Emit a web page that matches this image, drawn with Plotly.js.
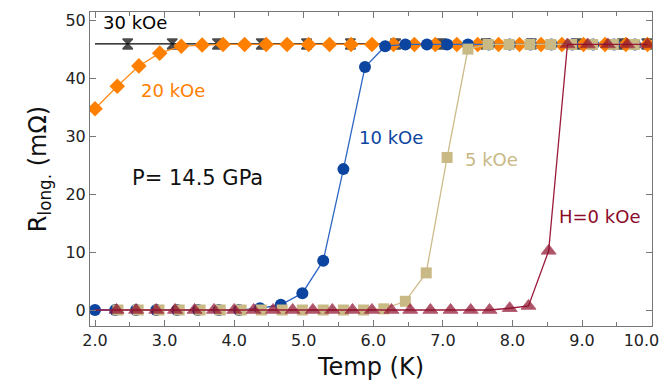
<!DOCTYPE html>
<html>
<head>
<meta charset="utf-8">
<script src="https://cdn.plot.ly/plotly-3.0.1.min.js"></script>
<style>html,body{margin:0;padding:0;background:#fff;}#chart{width:667px;height:390px;}</style>
</head>
<body>
<div id="chart"></div>
<script>
// 30 kOe (first point: line start only)
const t30 = [2.0, 2.47, 3.11, 3.76, 4.39, 5.04, 5.67, 6.32, 6.98, 7.62, 8.27, 8.92, 9.58, 9.93];
const r30 = [45.9, 45.9, 45.9, 45.9, 45.9, 45.9, 45.9, 45.9, 45.9, 45.9, 45.9, 45.9, 45.9, 45.9];

// 20 kOe
const t20 = [2.0, 2.32, 2.63, 2.93, 3.24, 3.54, 3.84, 4.15, 4.46, 4.76, 5.07, 5.37, 5.68, 5.98, 6.29, 6.59, 6.89, 7.2, 7.5, 7.8, 8.1, 8.41, 8.71, 9.02, 9.33, 9.63, 9.94];
const r20 = [34.7, 38.6, 42.1, 44.3, 45.5, 45.7, 45.8, 45.8, 45.8, 45.8, 45.8, 45.8, 45.8, 45.8, 45.8, 45.8, 45.8, 45.8, 45.8, 45.8, 45.8, 45.8, 45.8, 45.8, 45.8, 45.8, 45.8];

// 10 kOe
const t10 = [2.0, 2.29, 2.59, 2.88, 3.18, 3.48, 3.78, 4.07, 4.37, 4.67, 4.98, 5.28, 5.57, 5.88, 6.17, 6.46, 6.77, 7.06, 7.36, 7.66, 7.96, 8.26, 8.56, 8.86, 9.16, 9.46, 9.76];
const r10 = [0, 0, 0, 0, 0, 0, 0, 0, 0.3, 0.9, 2.9, 8.5, 24.3, 41.9, 45.5, 45.8, 45.8, 45.8, 45.8, 45.8, 45.8, 45.8, 45.8, 45.8, 45.8, 45.8, 45.8];

// 5 kOe
const t5 = [2.33, 2.62, 2.92, 3.21, 3.51, 3.80, 4.10, 4.39, 4.69, 4.98, 5.28, 5.57, 5.86, 6.15, 6.46, 6.76, 7.06, 7.36, 7.65, 7.95, 8.25, 8.55, 8.85, 9.15, 9.45, 9.75];
const r5 = [0, 0, 0, 0, 0, 0, 0, 0, 0, 0, 0, 0, 0, 0.2, 1.5, 6.4, 26.3, 45.0, 45.8, 45.8, 45.8, 45.8, 45.8, 45.8, 45.8, 45.8];

// H = 0 kOe (first point: line start only)
const t0 = [2.0, 2.31, 2.59, 2.88, 3.15, 3.43, 3.71, 4.0, 4.28, 4.56, 4.84, 5.13, 5.41, 5.7, 5.98, 6.26, 6.53, 6.82, 7.11, 7.4, 7.67, 7.96, 8.23, 8.52, 8.79, 9.08, 9.37, 9.65, 9.94];
const r0 = [0, 0, 0, 0, 0, 0, 0, 0, 0, 0, 0, 0, 0, 0, 0, 0, 0, 0, 0, 0, 0, 0.3, 0.7, 10.2, 45.8, 45.8, 45.8, 45.8, 45.8];

const xTickVals = [2, 3, 4, 5, 6, 7, 8, 9, 10];
const xTickText = ["2.0", "3.0", "4.0", "5.0", "6.0", "7.0", "8.0", "9.0", "10.0"];

const labels = ["30 kOe", "20 kOe", "10 kOe", "5 kOe", "H=0 kOe"];
const pressureText = "P= 14.5 GPa";

const FONT = "DejaVu Sans, Verdana, sans-serif";

function sizes(n, s, hideFirst) {
  const a = new Array(n).fill(s);
  if (hideFirst) a[0] = 0;
  return a;
}

// last tick label padded so it stays inside the page like the reference
const xTickShown = xTickText.map((t, i) => i === xTickText.length - 1 ? t + '&nbsp;&nbsp;&nbsp;&nbsp;' : t);

const traces = [
  {x: t30, y: r30, mode: 'lines+markers', line: {color: '#000000', width: 1.2},
   marker: {symbol: 'hourglass', color: '#000000', size: sizes(t30.length, 10, true),
            line: {color: '#000000', width: 1.5}}},
  {x: t20, y: r20, mode: 'lines+markers', line: {color: '#FF8C1A', width: 1.3},
   marker: {symbol: 'diamond', color: '#FF8000', size: 12}},
  {x: t10, y: r10, mode: 'lines+markers', line: {color: '#2F66C4', width: 1.3},
   marker: {symbol: 'circle', color: '#0B45A0', size: 12}},
  {x: t5, y: r5, mode: 'lines+markers', line: {color: '#CDBB8A', width: 1.3},
   marker: {symbol: 'square', color: '#C9B985', size: 11}},
  {x: t0, y: r0, mode: 'lines+markers', line: {color: '#9B1B3C', width: 1.3},
   marker: {symbol: 'triangle-up', color: '#8A0C28', size: sizes(t0.length, 13, true)}}
];

const ann = (text, x, y, color, size) => ({
  text: text, x: x, y: y, xref: 'x', yref: 'y', showarrow: false,
  font: {family: FONT, size: size, color: color}, xanchor: 'center', yanchor: 'middle'
});

const layout = {
  width: 667, height: 390,
  margin: {l: 90, r: 15, t: 12, b: 64},
  paper_bgcolor: '#ffffff', plot_bgcolor: '#ffffff',
  showlegend: false,
  font: {family: FONT, color: '#222222'},
  xaxis: {
    range: [1.928, 10.005], tickmode: 'array', tickvals: xTickVals, ticktext: xTickShown,
    ticklabeloverflow: 'allow',
    ticks: 'inside', ticklen: 6, tickcolor: '#777777', tickwidth: 1,
    minor: {dtick: 0.5, tick0: 0, ticks: 'inside', ticklen: 4, tickcolor: '#777777'},
    showline: true, linecolor: '#777777', linewidth: 1, mirror: 'ticks',
    showgrid: false, zeroline: false,
    tickfont: {family: FONT, size: 16, color: '#222222'},
    title: {text: 'Temp (K)', font: {family: FONT, size: 24, color: '#111111'}, standoff: 8}
  },
  yaxis: {
    range: [-2.76, 51.4], dtick: 10, tick0: 0,
    ticks: 'inside', ticklen: 6, tickcolor: '#777777', tickwidth: 1,
    showline: true, linecolor: '#777777', linewidth: 1, mirror: 'ticks',
    showgrid: false, zeroline: false,
    tickfont: {family: FONT, size: 16, color: '#222222'},
    title: {text: 'R<sub>long.</sub> (mΩ)', font: {family: FONT, size: 24, color: '#111111'}, standoff: 12}
  },
  annotations: [
    ann(labels[0], 2.58, 49.6, '#000000', 18),
    ann(labels[1], 3.12, 37.8, '#FF8000', 18),
    ann(labels[2], 6.26, 29.7, '#0B45A0', 18),
    ann(labels[3], 7.70, 25.9, '#C9B985', 18),
    ann(labels[4], 9.245, 16.1, '#8A0C28', 18),
    ann(pressureText, 3.47, 22.8, '#111111', 21)
  ]
};

Plotly.newPlot('chart', traces, layout, {displayModeBar: false, staticPlot: true});
</script>
</body>
</html>
